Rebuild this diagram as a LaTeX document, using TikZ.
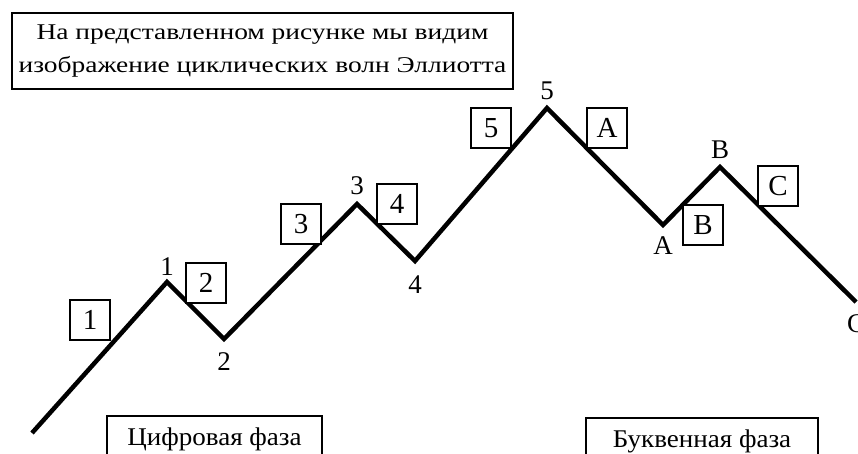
\documentclass[tikz,border=0pt]{standalone}
\usepackage{fontspec}
\setmainfont{Liberation Serif}
\newfontfamily\titlefont[FakeStretch=1.22]{Liberation Serif}
\newfontfamily\phasefont[FakeStretch=1.06]{Liberation Serif}
\usetikzlibrary{positioning}
\tikzstyle{wave} = [draw, line width=4.5pt, line join=miter]
\tikzstyle{wavebox} = [draw, line width=1.8pt, fill=white, minimum width=40pt,
	minimum height=40pt, inner sep=0pt, font=\fontsize{29}{29}\selectfont]
\tikzstyle{point} = [inner sep=0pt, font=\fontsize{27}{27}\selectfont]
\tikzstyle{phase} = [draw, line width=1.8pt, inner sep=0pt,
	font=\phasefont\fontsize{25.5}{25.5}\selectfont]

\begin{document}
\begin{tikzpicture}[x=1pt, y=-1pt]
		\useasboundingbox (0,0) rectangle (858,454);
		% wave vertices
		\coordinate (w0) at (32,433);
		\coordinate (w1) at (167,282);
		\coordinate (w2) at (224,339);
		\coordinate (w3) at (357,204);
		\coordinate (w4) at (415,261);
		\coordinate (w5) at (547,108);
		\coordinate (w6) at (663,225);
		\coordinate (w7) at (720,167);
		\coordinate (w8) at (856,302);
		\path [wave] (w0) -- (w1) -- (w2) -- (w3) -- (w4) -- (w5) -- (w6) -- (w7) -- (w8);
	
		\node [point, above=6pt of w1] (p1) {1};
		\node [point, below=13pt of w2] (p2) {2};
		\node [point, above=9pt of w3] (p3) {3};
		\node [point, below=15pt of w4] (p4) {4};
		\node [point, above=8pt of w5] (p5) {5};
		\node [point, below=11pt of w6] (pA) {A};
		\node [point, above=8pt of w7] (pB) {B};
		\node [point, below=12pt of w8] (pC) {C};
	
		\node [wavebox] (b1) at (90,320) {1};
		\node [wavebox] (b2) at (206,283) {2};
		\node [wavebox] (b3) at (301,224) {3};
		\node [wavebox] (b4) at (397,204) {4};
		\node [wavebox] (b5) at (491,128) {5};
		\node [wavebox] (bA) at (607,128) {A};
		\node [wavebox] (bB) at (703,225) {B};
		\node [wavebox] (bC) at (778,186) {C};
	
		\node [phase, line width=2.4pt, minimum width=501pt, minimum height=76pt,
			align=center, font=\titlefont\fontsize{22.5}{33}\selectfont] (title) at (262.5,51)
			{На представленном рисунке мы видим\\изображение циклических волн Эллиотта};
		\node [phase, minimum width=215pt, minimum height=46pt] (digits) at (214.5,439) {Цифровая фаза};
		\node [phase, minimum width=232pt, minimum height=46pt] (letters) at (702,441) {Буквенная фаза};
	\end{tikzpicture}
\end{document}
